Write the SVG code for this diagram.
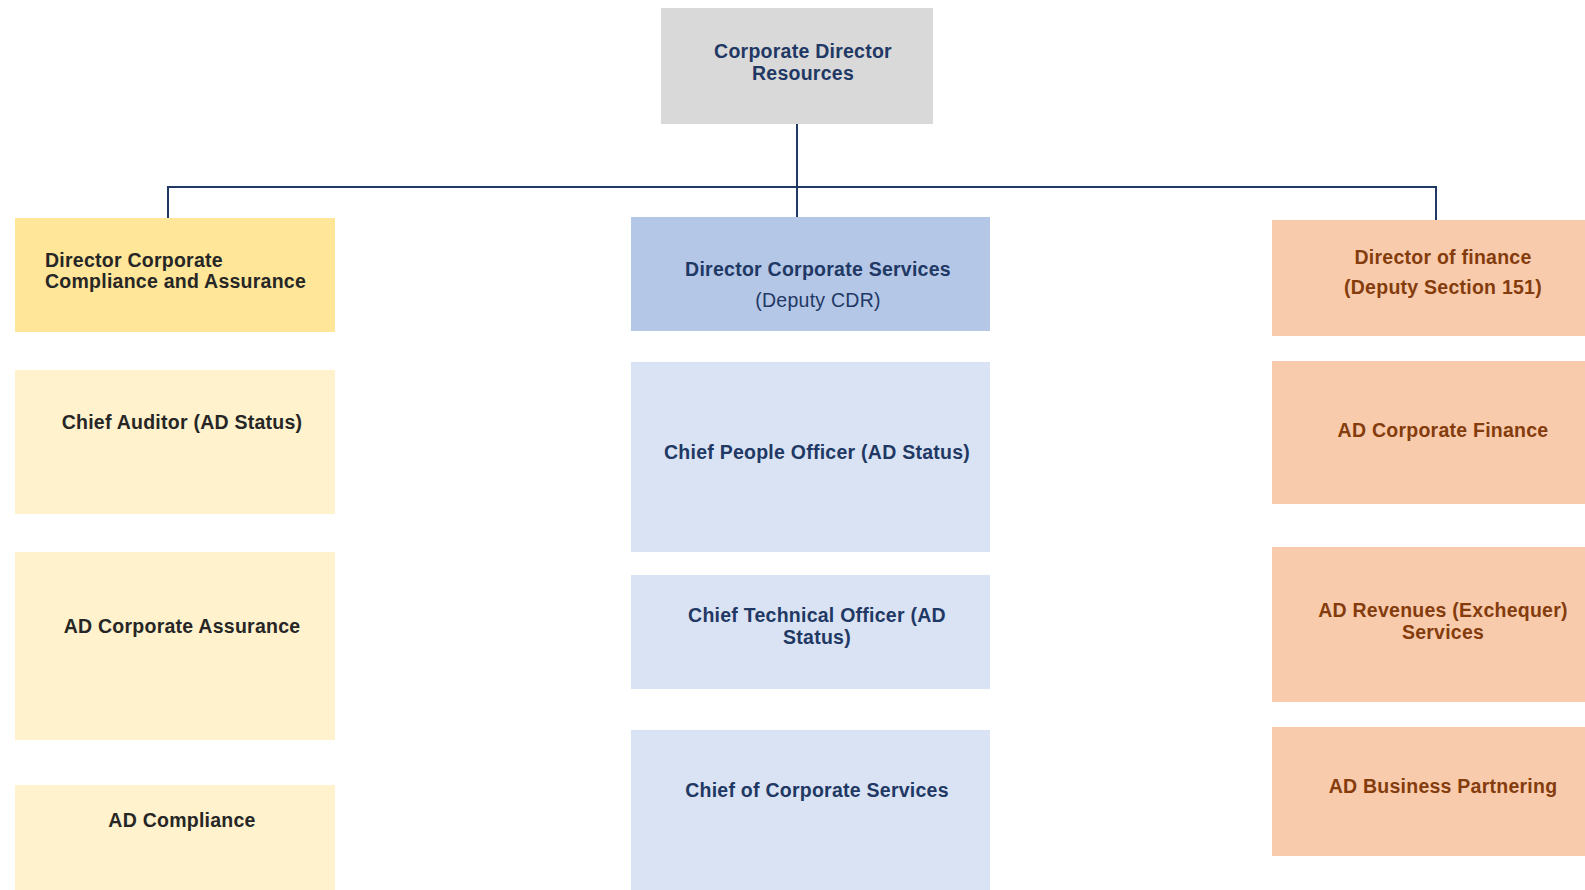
<svg xmlns="http://www.w3.org/2000/svg" width="1585" height="890" viewBox="0 0 1585 890">
<style>
text{font-family:"Liberation Sans",Arial,sans-serif;font-size:19.5px;font-weight:bold;text-anchor:middle;letter-spacing:0.25px}
.blue{fill:#1f3864}
.dark{fill:#262626}
.brown{fill:#843c0c}
.reg{font-weight:normal}
.conn{stroke:#1f3864;stroke-width:2;fill:none}
</style>
<rect width="1585" height="890" fill="#ffffff"/>
<g id="connectors">
<path class="conn" d="M797 124 V217"/>
<path class="conn" d="M168 218 V187 H1436 V220"/>
</g>
<g id="cdr">
<rect x="661" y="8" width="272" height="116" fill="#d9d9d9"/>
<text class="blue" x="803" y="58">Corporate Director</text>
<text class="blue" x="803" y="80">Resources</text>
</g>
<g id="dcca">
<rect x="15" y="218" width="320" height="114" fill="#ffe699"/>
<text class="dark" x="45" y="267" style="text-anchor:start">Director Corporate</text>
<text class="dark" x="45" y="288" style="text-anchor:start">Compliance and Assurance</text>
</g>
<g id="chief-auditor">
<rect x="15" y="370" width="320" height="144" fill="#fff2cc"/>
<text class="dark" x="182" y="429">Chief Auditor (AD Status)</text>
</g>
<g id="ad-corp-assurance">
<rect x="15" y="552" width="320" height="188" fill="#fff2cc"/>
<text class="dark" x="182" y="633">AD Corporate Assurance</text>
</g>
<g id="ad-compliance">
<rect x="15" y="785" width="320" height="110" fill="#fff2cc"/>
<text class="dark" x="182" y="827">AD Compliance</text>
</g>
<g id="dcs">
<rect x="631" y="217" width="359" height="114" fill="#b4c7e7"/>
<text class="blue" x="818" y="276">Director Corporate Services</text>
<text class="blue reg" x="818" y="307">(Deputy CDR)</text>
</g>
<g id="cpo">
<rect x="631" y="362" width="359" height="190" fill="#dae3f3"/>
<text class="blue" x="817" y="459">Chief People Officer (AD Status)</text>
</g>
<g id="cto">
<rect x="631" y="575" width="359" height="114" fill="#dae3f3"/>
<text class="blue" x="817" y="622">Chief Technical Officer (AD</text>
<text class="blue" x="817" y="644">Status)</text>
</g>
<g id="cocs">
<rect x="631" y="730" width="359" height="165" fill="#dae3f3"/>
<text class="blue" x="817" y="797">Chief of Corporate Services</text>
</g>
<g id="dof">
<rect x="1272" y="220" width="320" height="116" fill="#f8cbad"/>
<text class="brown" x="1443" y="264">Director of finance</text>
<text class="brown" x="1443" y="294">(Deputy Section 151)</text>
</g>
<g id="ad-corp-finance">
<rect x="1272" y="361" width="320" height="143" fill="#f8cbad"/>
<text class="brown" x="1443" y="437">AD Corporate Finance</text>
</g>
<g id="ad-revenues">
<rect x="1272" y="547" width="320" height="155" fill="#f8cbad"/>
<text class="brown" x="1443" y="617">AD Revenues (Exchequer)</text>
<text class="brown" x="1443" y="639">Services</text>
</g>
<g id="ad-business">
<rect x="1272" y="727" width="320" height="129" fill="#f8cbad"/>
<text class="brown" x="1443" y="793">AD Business Partnering</text>
</g>
</svg>
